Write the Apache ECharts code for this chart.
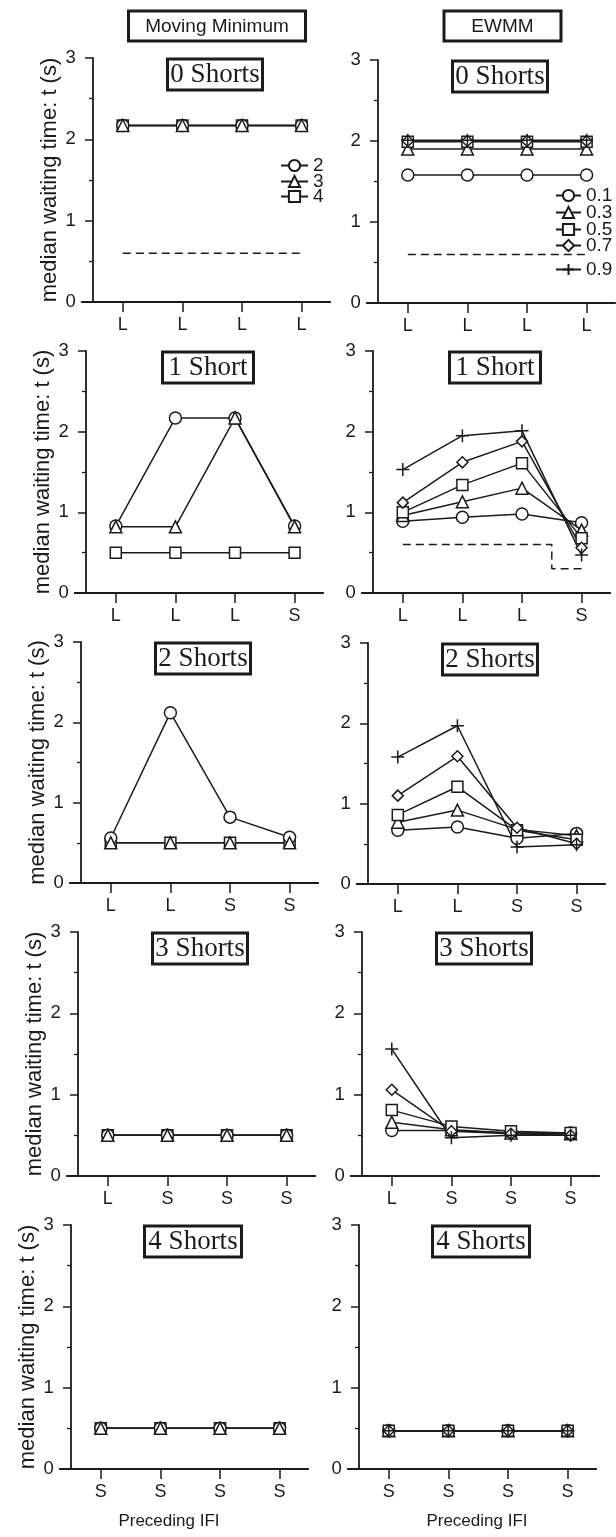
<!DOCTYPE html>
<html><head><meta charset="utf-8">
<script src="https://cdn.jsdelivr.net/npm/echarts@6/dist/echarts.min.js"></script>
<style>html,body{margin:0;padding:0;background:#fff}#c{width:616px;height:1537px}</style>
</head><body><div id="c"></div>
<script>
// ---------- data ----------
const rowCategories = [
  ['L','L','L','L'],
  ['L','L','L','S'],
  ['L','L','S','S'],
  ['L','S','S','S'],
  ['S','S','S','S']
];
const panelTitles = ['0 Shorts','1 Short','2 Shorts','3 Shorts','4 Shorts'];
const columnTitles = ['Moving Minimum','EWMM'];
const yAxisTitle = 'median waiting time: t (s)';
const xAxisTitle = 'Preceding IFI';
const mmNames = ['2','3','4'];
const ewNames = ['0.1','0.3','0.5','0.7','0.9'];

// Moving Minimum (rows: 0..4 Shorts)
const mm2 = [[2.17,2.17,2.17,2.17],[0.83,2.17,2.17,0.83],[0.56,2.12,0.82,0.57],[0.50,0.50,0.50,0.50],[0.50,0.50,0.50,0.50]];
const mm3 = [[2.17,2.17,2.17,2.17],[0.82,0.82,2.17,0.82],[0.50,0.50,0.50,0.50],[0.50,0.50,0.50,0.50],[0.50,0.50,0.50,0.50]];
const mm4 = [[2.17,2.17,2.17,2.17],[0.50,0.50,0.50,0.50],[0.50,0.50,0.50,0.50],[0.50,0.50,0.50,0.50],[0.50,0.50,0.50,0.50]];

// EWMM
const ew01 = [[1.58,1.58,1.58,1.58],[0.89,0.94,0.98,0.87],[0.67,0.71,0.57,0.63],[0.56,0.56,0.53,0.53],[0.47,0.47,0.47,0.47]];
const ew03 = [[1.90,1.90,1.90,1.90],[0.96,1.13,1.30,0.78],[0.77,0.92,0.68,0.60],[0.66,0.57,0.53,0.52],[0.47,0.47,0.47,0.47]];
const ew05 = [[1.99,1.99,1.99,1.99],[1.00,1.34,1.61,0.68],[0.86,1.21,0.67,0.55],[0.81,0.61,0.55,0.53],[0.47,0.47,0.47,0.47]];
const ew07 = [[2.00,2.00,2.00,2.00],[1.12,1.62,1.88,0.56],[1.10,1.59,0.70,0.50],[1.06,0.55,0.52,0.50],[0.47,0.47,0.47,0.47]];
const ew09 = [[2.01,2.01,2.01,2.01],[1.53,1.95,2.01,0.47],[1.58,1.97,0.46,0.49],[1.56,0.47,0.50,0.50],[0.47,0.47,0.47,0.47]];

// dashed reference lines (x in category index units)
const mmRefX = [[0,3],null,null,null,null];
const mmRefY = [[0.6,0.6],null,null,null,null];
const ewRefX = [[0,3],[0,2.5,2.5,3],null,null,null];
const ewRefY = [[0.6,0.6],[0.6,0.6,0.3,0.3],null,null,null];

// ---------- layout / style ----------
const INK = '#1b1b1b';
const SANS = '"Liberation Sans", Arial, Helvetica, sans-serif';
const SERIF = '"Liberation Serif", "Times New Roman", serif';
const X0 = [[93,378],[86,373],[81,368],[78,362],[71,359]];
const YTOP = [[58,60],[351,351],[642,643],[932,932],[1225,1225]];
const YBOT = [[302,303],[593,593],[883,884],[1176,1176],[1469,1469]];
const UNIT = 59.6, XMIN = -0.19, XMAX = 3.98, XOFF = 0.5;
const TICKS = [0.5,1.5,2.5,3.5];
const titlePadX = [3,6,3,3,4];
const PLUS = 'path://M0,6.5L13,6.5M6.5,0L6.5,13';
const mmSymbols = [['circle',12],['triangle',12],['rect',11]];
const ewSymbols = [['circle',12],['triangle',12],['rect',11],['diamond',11],[PLUS,13]];
// legend item centre rows (px)
const mmLegendY = [163,179,194];
const ewLegendY = [193,210,227,243,267];

const columns = [
  {names: mmNames, values: [mm2,mm3,mm4], symbols: mmSymbols, order: [2,0,1], refX: mmRefX, refY: mmRefY},
  {names: ewNames, values: [ew01,ew03,ew05,ew07,ew09], symbols: ewSymbols, order: [0,1,2,3,4], refX: ewRefX, refY: ewRefY}
];

const grid = [], xAxis = [], yAxis = [], series = [], title = [];
const lineW = {color: INK, width: 1.8};

columnTitles.forEach((t, c) => {
  const cx = [217, 502.5][c];
  const px = [16.7, 27.9][c];
  title.push({text: t, left: cx - px, top: 10.5, textAlign: 'center', padding: [7, px, 5, px],
    borderWidth: 3, borderColor: INK,
    textStyle: {fontFamily: SANS, fontSize: 19, lineHeight: 19, fontWeight: 'normal', color: INK}});
});

for (let r = 0; r < 5; r++) {
  for (let c = 0; c < 2; c++) {
    const k = r * 2 + c;
    const cats = rowCategories[r];
    const x0 = X0[r][c];
    grid.push({left: x0 + XMIN * UNIT, top: YTOP[r][c], width: (XMAX - XMIN) * UNIT, height: YBOT[r][c] - YTOP[r][c], containLabel: false});
    xAxis.push({
      type: 'value', gridIndex: k, min: XMIN, max: XMAX,
      axisLine: {show: true, onZero: true, lineStyle: lineW},
      axisTick: {show: true, customValues: TICKS, length: 10, lineStyle: {color: INK, width: 1.5}},
      axisLabel: {show: true, customValues: TICKS, formatter: v => cats[Math.round(v - XOFF)], margin: 14,
        fontFamily: SANS, fontSize: 18, color: INK},
      splitLine: {show: false},
      name: r === 4 ? xAxisTitle : '', nameLocation: 'middle', nameGap: 44, nameMoveOverlap: false,
      nameTextStyle: {fontFamily: SANS, fontSize: 17, color: INK, padding: c === 0 ? [0, 30, 0, 0] : [0, 0, 0, 10]}
    });
    yAxis.push({
      type: 'value', gridIndex: k, min: 0, max: 3, interval: 1,
      axisLine: {show: true, onZero: true, lineStyle: lineW},
      axisTick: {show: true, length: 8, lineStyle: {color: INK, width: 1.5}},
      minorTick: {show: true, splitNumber: 2, length: 4, lineStyle: {color: INK, width: 1.3}},
      axisLabel: {margin: 6, fontFamily: SANS, fontSize: 18.5, color: INK},
      splitLine: {show: false}, minorSplitLine: {show: false},
      name: c === 0 ? yAxisTitle : '', nameLocation: 'middle', nameGap: 21, nameMoveOverlap: false,
      nameTextStyle: {fontFamily: SANS, fontSize: 22, color: INK}
    });
    title.push({text: panelTitles[r], left: x0 + 122 - titlePadX[r], top: YTOP[r][c] + 0.5, textAlign: 'center',
      padding: [2, titlePadX[r], 2, titlePadX[r]], borderWidth: 3, borderColor: INK,
      textStyle: {fontFamily: SERIF, fontSize: 27, lineHeight: 28, fontWeight: 'normal', color: INK}});

    const col = columns[c];
    if (col.refX[r]) {
      series.push({type: 'line', xAxisIndex: k, yAxisIndex: k, name: 'ref',
        data: col.refX[r].map((x, i) => [x + XOFF, col.refY[r][i]]),
        symbol: 'none', silent: true, animation: false, z: 1,
        lineStyle: {type: [8, 5], width: 1.5, color: INK}});
    }
    col.order.forEach(j => {
      const sym = col.symbols[j];
      series.push({type: 'line', xAxisIndex: k, yAxisIndex: k, name: col.names[j],
        data: col.values[j][r].map((v, i) => [i + XOFF, v]),
        symbol: sym[0], symbolSize: sym[1], showSymbol: true, showAllSymbol: true,
        silent: true, animation: false, z: 2,
        lineStyle: {color: INK, width: 1.5},
        itemStyle: {color: '#fff', borderColor: INK, borderWidth: 1.5},
        emphasis: {disabled: true}});
    });
  }
}

const legText = {fontFamily: SANS, fontSize: 19, color: INK};
const legend = [];
mmNames.forEach((n, i) => legend.push({data: [n], orient: 'vertical', left: 280, top: mmLegendY[i] - 7, padding: 0,
  itemWidth: 27, itemHeight: 14, selectedMode: false, textStyle: legText}));
ewNames.forEach((n, i) => legend.push({data: [n], orient: 'vertical', left: 555, top: ewLegendY[i] - 7, padding: 0,
  itemWidth: 25, itemHeight: 14, selectedMode: false, textStyle: legText}));

const chart = echarts.init(document.getElementById('c'), null, {renderer: 'canvas'});
chart.setOption({backgroundColor: '#fff', animation: false, title, legend, grid, xAxis, yAxis, series});
</script></body></html>
